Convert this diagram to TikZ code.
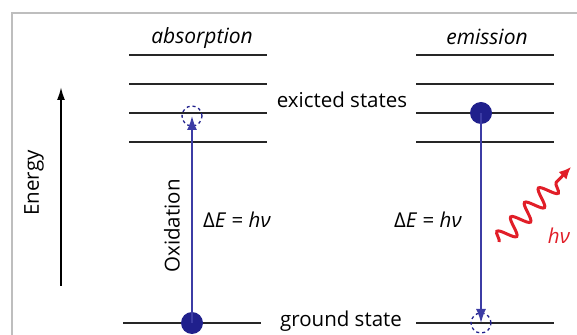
\documentclass[tikz,border=0pt]{standalone}
\usepackage{fontspec}
\setmainfont{Open Sans}
\usetikzlibrary{arrows.meta,decorations.pathmorphing,positioning}
\definecolor{navy}{RGB}{32,32,140}
\definecolor{arrblue}{RGB}{60,60,165}
\definecolor{photonred}{RGB}{225,30,40}
\definecolor{framegray}{RGB}{190,190,190}

\begin{document}
\begin{tikzpicture}[x=1pt,y=1pt,font=\fontsize{20.5}{24}\selectfont,
  level/.style={line width=2pt,draw=black!85},
  dot/.style={circle,fill=navy,inner sep=0pt,minimum size=22pt},
  hole/.style={circle,draw=navy,dashed,line width=1.3pt,inner sep=0pt,minimum size=20pt},
  jump/.style={-{Latex[length=14pt,width=10pt]},draw=arrblue,line width=1.8pt},
  photon/.style={-{Latex[length=12pt,width=11pt]},draw=photonred,line width=3pt,
    decorate,decoration={snake,amplitude=9pt,segment length=20pt,post length=12pt}}]
  \useasboundingbox (0,0) rectangle (577,334);
  % ---------- frame
  \draw[framegray,line width=2.5pt] (12,-2) -- (12,321) -- (579,321);
  % ---------- energy axis
  \coordinate (ebot) at (61,48);
  \coordinate (etop) at (61,247);
  \draw[-{Latex[length=13pt,width=8pt]},line width=1.8pt] (ebot) -- (etop);
  \node[rotate=90] (energy) at (34,151) {Energy};
  % ---------- absorption
  \node[font=\fontsize{21}{24}\selectfont\itshape] (abs) at (202,296) {absorption};
  \foreach \y in {279,250,221,192} \draw[level] (129,\y) -- (267,\y);
  \draw[level] (123,11) -- (261,11);
  \node[dot] (g1) at (192,11) {};
  \node[hole] (x1) at (192,218) {};
  \draw[jump] (g1.center) -- (x1.center);
  \node[rotate=90] (ox) at (172,108) {Oxidation};
  \node (de1) at (237,114) {Δ\textit{E} = \textit{hν}};
  % ---------- labels between
  \node (exc) at (342,234) {exicted states};
  \node (gnd) at (341,13) {ground state};
  % ---------- emission
  \node[font=\fontsize{21}{24}\selectfont\itshape] (emi) at (487,297) {emission};
  \foreach \y in {279,250,221,192} \draw[level] (416,\y) -- (554,\y);
  \draw[level] (416,11) -- (554,11);
  \node[dot] (x2) at (481,221) {};
  \node[hole] (g2) at (481,11) {};
  \draw[jump] (x2.center) -- (g2.center);
  \node (de2) at (428,114) {Δ\textit{E} = \textit{hν}};
  % ---------- photon
  \coordinate (ph0) at (499,92);
  \coordinate (ph1) at (571,167);
  \draw[photon] (ph0) -- (ph1);
  \node[text=photonred] (hnu) at (559,98) {\textit{hν}};
\end{tikzpicture}
\end{document}
